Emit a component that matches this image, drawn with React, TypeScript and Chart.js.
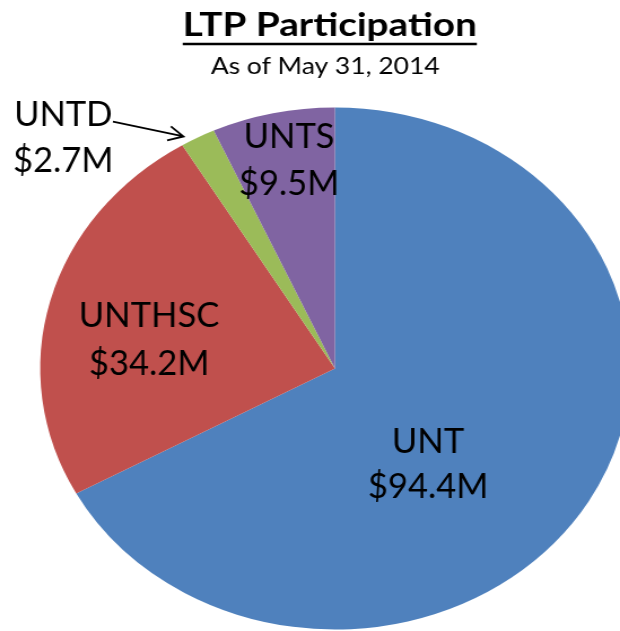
import React, { useEffect, useRef } from "react";
import { Chart, registerables } from "chart.js";

Chart.register(...registerables);

// ---- data ----
const categories = ["UNT", "UNTHSC", "UNTD", "UNTS"];
const valuesM = [94.4, 34.2, 2.7, 9.5];
const sliceColors = ["#4F81BD", "#C0504D", "#9BBB59", "#8064A2"];
const titleText = "LTP Participation";
const subtitleText = "As of May 31, 2014";

// ---- layout (unstretched canvas coordinates) ----
const CANVAS_W = 549;
const CANVAS_H = 631;
const DISPLAY_W = 620;
const FONT = "Lato, 'Open Sans', sans-serif";
const LABEL_FONT_PX = 34;
const LABEL_CONDENSE = 0.9;
// centre x, first-line baseline, second-line baseline
const labelLayout: Record<string, [number, number, number]> = {
  UNT: [379, 453, 498],
  UNTHSC: [132, 327, 375],
  UNTD: [56, 126, 172],
  UNTS: [256, 148, 195],
};

function drawText(
  ctx: CanvasRenderingContext2D,
  text: string,
  cx: number,
  baseline: number,
  font: string,
  sx: number
) {
  ctx.save();
  ctx.font = font;
  ctx.textAlign = "center";
  ctx.textBaseline = "alphabetic";
  ctx.translate(cx, baseline);
  ctx.scale(sx, 1);
  ctx.fillStyle = "#000";
  ctx.fillText(text, 0, 0);
  const w = ctx.measureText(text).width * sx;
  ctx.restore();
  return w;
}

const overlayPlugin = {
  id: "overlay",
  afterDraw(chart: any) {
    const ctx: CanvasRenderingContext2D = chart.ctx;
    // title with underline
    const tcx = 292;
    const tw = drawText(ctx, titleText, tcx, 35.5, `bold 32px ${FONT}`, 1.07);
    ctx.save();
    ctx.strokeStyle = "#000";
    ctx.lineWidth = 2.5;
    ctx.beginPath();
    ctx.moveTo(tcx - tw / 2, 44);
    ctx.lineTo(tcx + tw / 2, 44);
    ctx.stroke();
    ctx.restore();
    drawText(ctx, subtitleText, 288, 74, `22.5px ${FONT}`, 1.04);

    // slice labels
    categories.forEach((name, i) => {
      const [cx, b1, b2] = labelLayout[name];
      const f = `${LABEL_FONT_PX}px ${FONT}`;
      drawText(ctx, name, cx, b1, f, LABEL_CONDENSE);
      drawText(ctx, `$${valuesM[i].toFixed(1)}M`, cx, b2, f, LABEL_CONDENSE);
    });

    // arrow from UNTD label to its slice
    const meta = chart.getDatasetMeta(0);
    const arc = meta.data[2];
    const mid = (arc.startAngle + arc.endAngle) / 2 - 0.04;
    const r = arc.outerRadius + 7;
    const tipX = arc.x + Math.cos(mid) * r;
    const tipY = arc.y + Math.sin(mid) * r;
    const sx = 100, sy = 121.7;
    const ang = Math.atan2(tipY - sy, tipX - sx);
    ctx.save();
    ctx.strokeStyle = "#000";
    ctx.lineWidth = 1.8;
    ctx.beginPath();
    ctx.moveTo(sx, sy);
    ctx.lineTo(tipX, tipY);
    const hl = 15, ha = 0.5;
    ctx.moveTo(tipX - hl * Math.cos(ang - ha), tipY - hl * Math.sin(ang - ha));
    ctx.lineTo(tipX, tipY);
    ctx.lineTo(tipX - hl * Math.cos(ang + ha), tipY - hl * Math.sin(ang + ha));
    ctx.stroke();
    ctx.restore();
  },
};

export default function App() {
  const ref = useRef<HTMLCanvasElement | null>(null);
  useEffect(() => {
    if (!ref.current) return;
    const chart = new Chart(ref.current, {
      type: "pie",
      data: {
        labels: categories,
        datasets: [
          {
            data: valuesM,
            backgroundColor: sliceColors,
            borderWidth: 0,
            radius: 261,
            clip: false,
          } as any,
        ],
      },
      options: {
        responsive: false,
        animation: false,
        devicePixelRatio: 1,
        layout: { padding: { left: 200, right: 155.8, top: 107.5, bottom: 1.5 } },
        plugins: {
          legend: { display: false },
          tooltip: { enabled: false },
          title: { display: false },
        },
      },
      plugins: [overlayPlugin],
    });
    return () => chart.destroy();
  }, []);
  return (
    <div
      style={{
        position: "fixed",
        left: 0,
        top: 0,
        width: DISPLAY_W,
        height: CANVAS_H,
        overflow: "hidden",
        background: "#fff",
      }}
    >
      <canvas
        ref={ref}
        width={CANVAS_W}
        height={CANVAS_H}
        style={{ width: `${DISPLAY_W}px`, height: `${CANVAS_H}px`, display: "block" }}
      />
    </div>
  );
}
